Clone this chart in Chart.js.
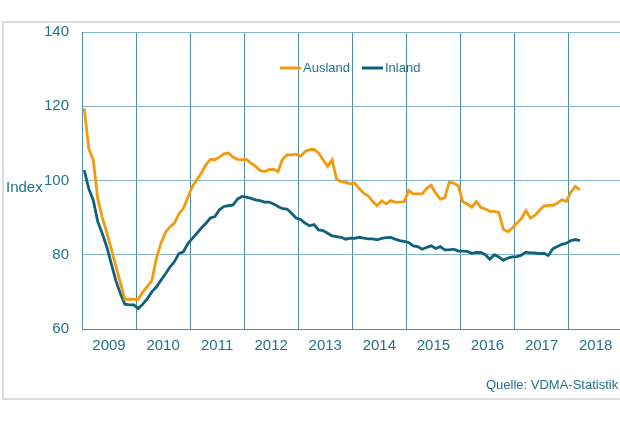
<!DOCTYPE html>
<html>
<head>
<meta charset="utf-8">
<script src="https://cdn.jsdelivr.net/npm/chart.js@4"></script>
<style>
  html, body { margin: 0; padding: 0; background: #fff; overflow: hidden; }
  #frame { position: absolute; left: 2px; top: 21px; width: 660px; height: 375px; border: 2px solid #dcdcdc; }
  #wrap { position: absolute; left: 0; top: 0; width: 620px; height: 430px; }
  .txt { position: absolute; font-family: "Liberation Sans", Arial, sans-serif; color: #22738a; }
</style>
</head>
<body>
<div id="frame"></div>
<div id="wrap"><canvas id="myChart" width="620" height="430"></canvas></div>
<div class="txt" style="left:6px; top:178px; font-size:15px;">Index</div>
<div class="txt" style="left:486px; top:377px; font-size:13px;">Quelle: VDMA-Statistik</div>
<script>
// x axis: one point per month, Jan 2009 .. Mar 2018
const firstYear = 2009;
const monthCount = 111;
const months = Array.from({ length: monthCount }, (_, i) => firstYear + (i + 0.5) / 12);
const yearTicks = [2009, 2010, 2011, 2012, 2013, 2014, 2015, 2016, 2017, 2018];

const ausland = [
  119.4, 108.6, 105.5, 95, 90, 86, 81.5, 77, 72.5, 68, 68, 68,
  68, 70, 71.5, 73, 79, 83, 86, 87.5, 88.5, 91, 92.5, 95.5,
  98.4, 100.2, 102, 104.2, 105.7, 105.6, 106.3, 107.2, 107.4, 106.3, 105.7, 105.6,
  105.7, 104.7, 103.8, 102.7, 102.4, 102.9, 103, 102.4, 105.7, 106.9, 106.9, 107.1,
  106.5, 107.8, 108.3, 108.4, 107.4, 105.6, 103.8, 105.6, 100.4, 99.7, 99.5, 99.1,
  99.3, 97.9, 96.6, 95.9, 94.3, 93.2, 94.5, 93.7, 94.6, 94.2, 94.2, 94.3,
  97.3, 96.4, 96.4, 96.4, 97.9, 98.7, 96.6, 95, 95.3, 99.5, 99.3, 98.6,
  94.3, 93.7, 92.8, 94.3, 92.8, 92.3, 91.7, 91.7, 91.4, 86.9, 86.2, 87.2,
  88.5, 89.7, 91.9, 89.9, 90.6, 91.9, 93.1, 93.3, 93.3, 93.9, 94.8, 94.4,
  96.9, 98.4, 97.5
];

const inland = [
  102.8, 97.8, 94.7, 88.9, 85.7, 82.1, 77.6, 73.1, 69.6, 66.7, 66.5, 66.5,
  65.5, 66.7, 68.2, 70, 71.3, 73.1, 74.8, 76.7, 78.1, 80.3, 80.8, 83,
  84.4, 85.8, 87.2, 88.5, 89.9, 90.3, 92.1, 93, 93.2, 93.4, 95, 95.7,
  95.5, 95.2, 94.8, 94.6, 94.2, 94.2, 93.7, 93, 92.4, 92.3, 91.2, 89.9,
  89.5, 88.5, 87.8, 88.1, 86.7, 86.5, 85.8, 85.1, 84.9, 84.7, 84.2, 84.5,
  84.4, 84.7, 84.5, 84.3, 84.3, 84, 84.4, 84.6, 84.7, 84.2, 83.8, 83.6,
  83.3, 82.4, 82.2, 81.5, 82, 82.4, 81.7, 82.2, 81.3, 81.3, 81.5, 81,
  81, 80.9, 80.4, 80.6, 80.6, 80, 78.8, 80, 79.4, 78.5, 79.1, 79.4,
  79.5, 79.9, 80.7, 80.5, 80.5, 80.3, 80.4, 79.8, 81.6, 82.2, 82.8, 83.1,
  83.8, 84.1, 83.8
];

const textColor = '#22738a';
const vGridColor = '#4f8ea2';
const hGridColor = '#86b6c8';
const font = 'Liberation Sans, Arial, sans-serif';

// legend drawn inside the plot area, centred near the top
const insideLegend = {
  id: 'insideLegend',
  afterDraw(chart) {
    const ctx = chart.ctx;
    const y = 68;
    let x = 280;
    ctx.save();
    ctx.font = '13px ' + font;
    ctx.textBaseline = 'middle';
    chart.data.datasets.forEach(ds => {
      ctx.strokeStyle = ds.borderColor;
      ctx.lineWidth = 3;
      ctx.beginPath();
      ctx.moveTo(x, y);
      ctx.lineTo(x + 21, y);
      ctx.stroke();
      ctx.fillStyle = textColor;
      ctx.fillText(ds.label, x + 23, y);
      x += 23 + ctx.measureText(ds.label).width + 12;
    });
    ctx.restore();
  }
};

const toPoints = vals => vals.map((v, i) => ({ x: months[i], y: v }));

const myChart = new Chart(document.getElementById('myChart'), {
  type: 'line',
  data: {
    datasets: [
      { label: 'Ausland', data: toPoints(ausland), borderColor: '#f39a0e', borderWidth: 2.8, pointRadius: 0, tension: 0 },
      { label: 'Inland', data: toPoints(inland), borderColor: '#0f6279', borderWidth: 2.8, pointRadius: 0, tension: 0 }
    ]
  },
  options: {
    responsive: false,
    animation: false,
    devicePixelRatio: 1,
    layout: { padding: { top: 32, left: 0, right: 0, bottom: 0 } },
    plugins: { legend: { display: false }, tooltip: { enabled: false } },
    scales: {
      x: {
        type: 'linear',
        min: 2009,
        max: 2018.95,
        afterBuildTicks: scale => { scale.ticks = yearTicks.map(v => ({ value: v })); },
        afterFit: scale => { scale.height = 101; },
        grid: { color: vGridColor, lineWidth: 1, drawTicks: false },
        border: { color: vGridColor, width: 1 },
        ticks: {
          color: textColor,
          font: { size: 15, family: font },
          padding: 8,
          labelOffset: 27,
          maxRotation: 0,
          autoSkip: false,
          callback: v => String(v)
        }
      },
      y: {
        min: 60,
        max: 140,
        afterFit: scale => { scale.width = 82; },
        grid: { color: hGridColor, lineWidth: 1, drawTicks: false },
        border: { color: vGridColor, width: 1 },
        ticks: {
          stepSize: 20,
          color: textColor,
          font: { size: 15, family: font },
          padding: 13
        }
      }
    }
  },
  plugins: [insideLegend]
});
</script>
</body>
</html>
